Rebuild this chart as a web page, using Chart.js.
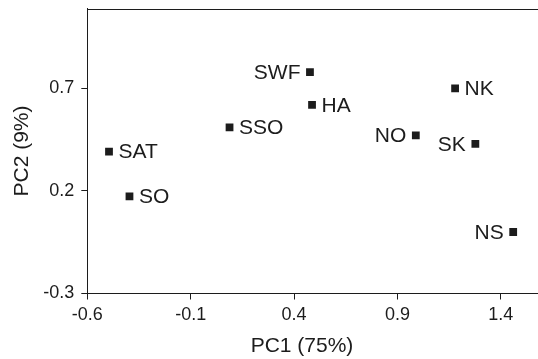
<!DOCTYPE html>
<html>
<head>
<meta charset="utf-8">
<script src="https://cdn.jsdelivr.net/npm/chart.js@4.4.1/dist/chart.umd.min.js"></script>
<style>
  html, body { margin: 0; padding: 0; background: #fff; }
  #wrap { width: 538px; height: 359px; }
</style>
</head>
<body>
<div id="wrap"><canvas id="c" width="538" height="359"></canvas></div>
<script>
// ---- data ----
const sites = ["SWF", "HA", "SSO", "SAT", "SO", "NO", "NK", "SK", "NS"];
const pc1 = [0.477, 0.487, 0.088, -0.495, -0.396, 0.989, 1.179, 1.277, 1.46];
const pc2 = [0.78, 0.62, 0.51, 0.392, 0.174, 0.471, 0.70, 0.43, 0.00];
const xTicks = [-0.6, -0.1, 0.4, 0.9, 1.4];
const yTicks = [-0.3, 0.2, 0.7];
const xTitle = "PC1 (75%)";
const yTitle = "PC2 (9%)";
const leftLabelled = ["SWF", "NO", "SK", "NS"];

const points = sites.map((s, i) => ({ x: pc1[i], y: pc2[i], label: s }));
const INK = "#1c1c1c";
const FONT = "'Liberation Sans', Arial, Helvetica, sans-serif";

const decor = {
  id: "decor",
  afterDatasetsDraw(chart) {
    const ctx = chart.ctx;
    const a = chart.chartArea;
    const meta = chart.getDatasetMeta(0);
    ctx.save();
    // top frame line
    ctx.strokeStyle = INK;
    ctx.lineWidth = 1;
    ctx.beginPath();
    ctx.moveTo(a.left, Math.round(a.top) + 0.5);
    ctx.lineTo(a.right, Math.round(a.top) + 0.5);
    ctx.stroke();
    // point labels
    ctx.fillStyle = INK;
    ctx.font = "21px " + FONT;
    ctx.textBaseline = "middle";
    meta.data.forEach((el, i) => {
      const name = points[i].label;
      const left = leftLabelled.includes(name);
      ctx.textAlign = left ? "right" : "left";
      ctx.fillText(name, el.x + (left ? -9.5 : 9.5), el.y + 1);
    });
    // x axis title
    ctx.textAlign = "center";
    ctx.textBaseline = "alphabetic";
    ctx.font = "21px " + FONT;
    ctx.fillText(xTitle, 302, 352);
    ctx.restore();
  }
};

new Chart(document.getElementById("c"), {
  type: "scatter",
  data: {
    datasets: [{
      data: points,
      pointStyle: "rect",
      pointRadius: 5.5,
      pointHoverRadius: 5.5,
      backgroundColor: INK,
      borderColor: INK,
      borderWidth: 0
    }]
  },
  options: {
    responsive: false,
    animation: false,
    devicePixelRatio: 1,
    layout: { autoPadding: false, padding: { top: 8.5, right: 0, left: 0, bottom: 0 } },
    plugins: { legend: { display: false }, tooltip: { enabled: false } },
    scales: {
      x: {
        type: "linear",
        min: -0.6,
        max: 1.58,
        afterBuildTicks: s => { s.ticks = xTicks.map(v => ({ value: v })); },
        afterFit: s => { s.height = 65.5; s.paddingRight = 0; s.paddingLeft = 0; },
        grid: { drawOnChartArea: false, drawTicks: true, tickLength: 6, color: INK },
        border: { display: true, color: INK, width: 1 },
        ticks: {
          color: INK, padding: 5, maxRotation: 0, autoSkip: false,
          font: { size: 18, family: FONT },
          callback: v => (Math.round(v * 10) / 10).toFixed(1)
        },
        title: { display: false }
      },
      y: {
        type: "linear",
        min: -0.3,
        max: 1.09,
        afterBuildTicks: s => { s.ticks = yTicks.map(v => ({ value: v })); },
        afterFit: s => { s.width = 87.3; s.paddingTop = 0; s.paddingBottom = 0; },
        grid: { drawOnChartArea: false, drawTicks: true, tickLength: 6, color: INK },
        border: { display: true, color: INK, width: 1 },
        ticks: {
          color: INK, padding: 7, autoSkip: false,
          font: { size: 18, family: FONT },
          callback: v => (Math.round(v * 10) / 10).toFixed(1)
        },
        title: {
          display: true, text: yTitle, color: INK, padding: { top: 10, bottom: 0 },
          font: { size: 21, family: FONT }
        }
      }
    }
  },
  plugins: [decor]
});
</script>
</body>
</html>
